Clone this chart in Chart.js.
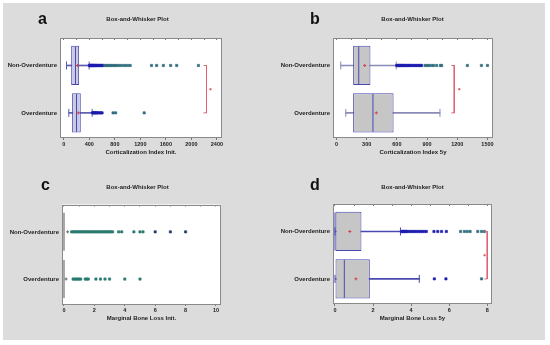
<!DOCTYPE html>
<html>
<head>
<meta charset="utf-8">
<script src="https://cdn.jsdelivr.net/npm/chart.js@4.4.1/dist/chart.umd.min.js"></script>
<style>
body { margin:0; background:#fff; width:550px; height:345px; position:relative; overflow:hidden; font-family:"Liberation Sans", Arial, sans-serif; }
#bg { position:absolute; left:3px; top:3px; width:542px; height:337px; background:#dcdcdc; }
canvas { position:absolute; }
.tag { position:absolute; font-weight:bold; font-size:16px; line-height:16px; color:#111; }
</style>
</head>
<body>
<div id="bg"></div>
<canvas id="ca" width="275" height="172" style="left:0;top:0"></canvas>
<canvas id="cb" width="275" height="172" style="left:275px;top:0"></canvas>
<canvas id="cc" width="275" height="173" style="left:0;top:172px"></canvas>
<canvas id="cd" width="275" height="173" style="left:275px;top:172px"></canvas>
<div class="tag" style="left:38px;top:11px">a</div>
<div class="tag" style="left:310px;top:11px">b</div>
<div class="tag" style="left:41px;top:177px">c</div>
<div class="tag" style="left:310px;top:177px">d</div>
<script>
var categories = ['Non-Overdenture', 'Overdenture'];

// a - Corticalization Index Init.
var aTicks = [0, 400, 800, 1200, 1600, 2000, 2400];
var aLow = [42, 78];
var aQ1 = [115, 130];
var aMedian = [183, 199];
var aQ3 = [240, 266];
var aHigh = [397, 444];
var aMean = [215, 228];
var aOutNon = [402, 410, 418, 426, 434, 442, 450, 460, 470, 480, 490, 500, 512, 525, 540, 555, 570, 585, 600, 615];
var aFarNon = [640, 665, 690, 715, 740, 765, 790, 815, 845, 880, 920, 960, 1000, 1040, 1375, 1455, 1560, 1675, 1770, 2110];
var aOutOver = [450, 462, 475, 490, 505, 520, 540, 560, 580, 600];
var aFarOver = [772, 812, 1260];
var aBracket = [2237, 2300];

// b - Corticalization Index 5y
var bTicks = [0, 300, 600, 900, 1200, 1500];
var bLow = [42, 92];
var bQ1 = [165, 165];
var bMedian = [221, 362];
var bQ3 = [337, 567];
var bHigh = [593, 1028];
var bMean = [280, 395];
var bOutNon = [598, 606, 614, 622, 630, 640, 650, 660, 670, 682, 694, 706, 718, 730, 745, 760, 775, 790, 805, 820, 835, 846];
var bFarNon = [880, 900, 920, 945, 965, 995, 1032, 1045, 1300, 1440, 1500];
var bOutOver = [];
var bFarOver = [];
var bBracket = [1170, 1220];

// c - Marginal Bone Loss Init.
var cTicks = [0, 2, 4, 6, 8, 10];
var cLow = [0, 0];
var cQ1 = [0, 0];
var cMedian = [0, 0];
var cQ3 = [0, 0];
var cHigh = [0, 0];
var cMean = [0.24, 0.14];
var cOutNon = [0.5, 0.6, 0.7, 0.8, 0.9, 1.0, 1.1, 1.2, 1.3, 1.4, 1.5, 1.6, 1.7, 1.8, 1.9, 2.0, 2.1, 2.2, 2.3, 2.4, 2.5, 2.6, 2.7, 2.8, 2.9, 3.0, 3.1, 3.2, 3.6, 3.8, 4.6, 5.0, 5.2];
var cFarNon = [6.0, 7.0, 8.0];
var cOutOver = [0.6, 0.7, 0.8, 0.9, 1.0, 1.1, 1.4, 1.5, 1.6, 2.1, 2.4, 2.7, 3.0, 4.0, 5.0];
var cFarOver = [];

// d - Marginal Bone Loss 5y
var dTicks = [0, 2, 4, 6, 8];
var dLow = [0, 0];
var dQ1 = [0, 0];
var dMedian = [0, 0.49];
var dQ3 = [1.39, 1.83];
var dHigh = [3.44, 4.43];
var dMean = [0.78, 1.1];
var dOutNon = [3.5, 3.55, 3.6, 3.65, 3.7, 3.75, 3.8, 3.9, 4.0, 4.1, 4.2, 4.3, 4.4, 4.5, 4.6, 4.7, 4.8, 5.2, 5.4, 5.6, 5.85];
var dFarNon = [6.6, 6.8, 6.95, 7.1, 7.5, 7.7, 7.85];
var dOutOver = [5.22, 5.83];
var dFarOver = [7.7];
var dBracket = [8.0, 7.86];

var FONT = '"Liberation Sans", Arial, sans-serif';
var RED = '#e06070';

function pts(values, row) {
  return values.map(function (v) { return {x: v, y: row}; });
}

// major ticks plus the half-way minor ones, for the inner marks on the top edge
function withMinor(ticks) {
  var out = [];
  for (var i = 0; i < ticks.length; i++) {
    out.push({value: ticks[i]});
    if (i < ticks.length - 1) out.push({value: (ticks[i] + ticks[i + 1]) / 2});
  }
  return out;
}

var frame = {
  id: 'frame',
  beforeDraw: function (chart) {
    var a = chart.chartArea, ctx = chart.ctx;
    ctx.save();
    ctx.fillStyle = '#ffffff';
    ctx.fillRect(a.left, a.top, a.right - a.left, a.bottom - a.top);
    ctx.restore();
  },
  afterDraw: function (chart) {
    var a = chart.chartArea, ctx = chart.ctx;
    ctx.save();
    ctx.strokeStyle = '#8a8a8a';
    ctx.lineWidth = 1;
    ctx.strokeRect(Math.round(a.left) + 0.5, Math.round(a.top) + 0.5, Math.round(a.right - a.left) - 1, Math.round(a.bottom - a.top) - 1);
    ctx.restore();
  }
};

function makeChart(id, p) {
  var datasets = [];
  datasets.push({
    type: 'bar', indexAxis: 'y', grouped: false, order: 9,
    data: p.low.map(function (v, i) { return {x: [v, p.high[i]], y: i}; }),
    barThickness: 1, backgroundColor: p.whisker, borderWidth: 0
  });
  datasets.push({
    type: 'bar', indexAxis: 'y', grouped: false, order: 8,
    data: p.q1.map(function (v, i) { return {x: [v, p.q3[i]], y: i}; }),
    categoryPercentage: 0.92, barPercentage: 0.9,
    backgroundColor: p.fill, borderColor: p.border, borderWidth: 1, borderSkipped: false
  });
  datasets.push({
    type: 'scatter', order: 7,
    data: p.median.map(function (v, i) { return {x: v, y: i}; }),
    pointStyle: 'line', pointRotation: 90, pointRadius: 19, pointHoverRadius: 19,
    pointBorderColor: p.medianColor, pointBorderWidth: p.medianWidth
  });
  datasets.push({
    type: 'scatter', order: 6,
    data: pts([p.low[0], p.high[0]], 0).concat(pts([p.low[1], p.high[1]], 1)),
    pointStyle: 'line', pointRotation: 90, pointRadius: 4, pointHoverRadius: 4,
    pointBorderColor: p.whisker, pointBorderWidth: 1
  });
  datasets.push({
    type: 'scatter', order: 5,
    data: p.mean.map(function (v, i) { return {x: v, y: i}; }),
    pointStyle: 'cross', pointRadius: 1.5, pointBorderColor: p.meanColor, pointBorderWidth: 1
  });
  datasets.push({
    type: 'scatter', order: 4,
    data: pts(p.outNon, 0).concat(pts(p.outOver, 1)),
    pointStyle: 'rect', pointRadius: 1.6, pointBackgroundColor: p.outColor, pointBorderColor: p.outColor, pointBorderWidth: 0.6
  });
  datasets.push({
    type: 'scatter', order: 3,
    data: pts(p.farNon, 0).concat(pts(p.farOver, 1)),
    pointStyle: 'rect', pointRadius: 1.6, pointBackgroundColor: p.farColor, pointBorderColor: p.farColor, pointBorderWidth: 0.6
  });
  if (p.bracket) {
    var bx = p.bracket[0], tick = (p.max - p.min) * 0.018;
    datasets.push({
      type: 'scatter', order: 2, showLine: true,
      data: [{x: bx - tick, y: 0}, {x: bx, y: 0}, {x: bx, y: 1}, {x: bx - tick, y: 1}],
      borderColor: RED, borderWidth: 1, pointRadius: 0
    });
    datasets.push({
      type: 'scatter', order: 1,
      data: [{x: p.bracket[1], y: 0.5}],
      pointStyle: 'circle', pointRadius: 0.8, pointBackgroundColor: RED, pointBorderColor: RED
    });
  }

  return new Chart(document.getElementById(id), {
    type: 'scatter',
    data: {datasets: datasets},
    plugins: [frame],
    options: {
      responsive: false,
      animation: false,
      events: [],
      layout: {padding: 0},
      plugins: {
        legend: {display: false},
        tooltip: {enabled: false},
        title: {
          display: true, text: 'Box-and-Whisker Plot', color: '#222',
          font: {family: FONT, size: 6, weight: 'bold'},
          padding: {top: p.titleTop, bottom: p.titleBottom}
        }
      },
      scales: {
        x: {
          type: 'linear', min: p.min, max: p.max, offset: false,
          afterBuildTicks: function (s) { s.ticks = p.ticks.map(function (v) { return {value: v}; }); },
          afterFit: function (s) { s.height = p.xHeight; },
          ticks: {color: '#222', font: {family: FONT, size: 5.5, weight: 'bold'}, padding: 1, maxRotation: 0, autoSkip: false,
            callback: function (v) { return String(v); }},
          grid: {drawOnChartArea: false, drawTicks: true, tickLength: 2, color: '#777'},
          border: {display: false},
          title: {display: true, text: p.xTitle, color: '#222', font: {family: FONT, size: 6, weight: 'bold'}, padding: {top: 0, bottom: p.xTitlePad}}
        },
        xt: {
          type: 'linear', position: 'top', min: p.min, max: p.max, offset: false,
          afterBuildTicks: function (s) { s.ticks = withMinor(p.ticks); },
          afterFit: function (s) { s.height = 0; },
          ticks: {display: false},
          grid: {drawOnChartArea: false, drawTicks: true, tickLength: -2, color: '#777'},
          border: {display: false}
        },
        y: {
          type: 'linear', reverse: true, min: -0.58, max: 1.53, offset: false,
          afterBuildTicks: function (s) { s.ticks = categories.map(function (c, i) { return {value: i}; }); },
          afterFit: function (s) { s.width = p.yWidth; },
          ticks: {color: '#222', font: {family: FONT, size: 6, weight: 'bold'}, padding: 3,
            callback: function (v) { return categories[v]; }},
          grid: {display: false, drawTicks: false},
          border: {display: false}
        },
        yr: {
          type: 'linear', position: 'right', display: true,
          afterFit: function (s) { s.width = p.padRight; },
          ticks: {display: false},
          grid: {display: false, drawTicks: false},
          border: {display: false}
        }
      }
    }
  });
}

makeChart('ca', {
  low: aLow, q1: aQ1, median: aMedian, q3: aQ3, high: aHigh, mean: aMean,
  outNon: aOutNon, farNon: aFarNon, outOver: aOutOver, farOver: aFarOver, bracket: aBracket,
  ticks: aTicks, min: -60, max: 2480, xTitle: 'Corticalization Index Init.',
  fill: '#c9c9e6', border: '#4a4aa8', whisker: '#5a5ab0', medianColor: '#4a4aa8', medianWidth: 1,
  meanColor: '#d04050', outColor: '#1c1cb0', farColor: '#2e6b7c',
  padRight: 53, yWidth: 60, xHeight: 34, xTitlePad: 16, titleTop: 15.4, titleBottom: 15.4
});

makeChart('cb', {
  low: bLow, q1: bQ1, median: bMedian, q3: bQ3, high: bHigh, mean: bMean,
  outNon: bOutNon, farNon: bFarNon, outOver: bOutOver, farOver: bFarOver, bracket: bBracket,
  ticks: bTicks, min: -35, max: 1555, xTitle: 'Corticalization Index 5y',
  fill: '#c6c6c6', border: '#4848b0', whisker: '#8a8ab8', medianColor: '#4848b0', medianWidth: 1,
  meanColor: '#d04050', outColor: '#1c1cb0', farColor: '#2e6b7c',
  padRight: 57, yWidth: 58, xHeight: 34, xTitlePad: 16, titleTop: 15.4, titleBottom: 15.4
});

makeChart('cc', {
  low: cLow, q1: cQ1, median: cMedian, q3: cQ3, high: cHigh, mean: cMean,
  outNon: cOutNon, farNon: cFarNon, outOver: cOutOver, farOver: cFarOver, bracket: null,
  ticks: cTicks, min: -0.13, max: 10.33, xTitle: 'Marginal Bone Loss Init.',
  fill: '#c6c6c6', border: '#a8a8a8', whisker: '#a8a8a8', medianColor: '#a8a8a8', medianWidth: 2,
  meanColor: '#666666', outColor: '#2a7a70', farColor: '#1e3c70',
  padRight: 54, yWidth: 62, xHeight: 41, xTitlePad: 23, titleTop: 11.4, titleBottom: 13.9
});

makeChart('cd', {
  low: dLow, q1: dQ1, median: dMedian, q3: dQ3, high: dHigh, mean: dMean,
  outNon: dOutNon, farNon: dFarNon, outOver: dOutOver, farOver: dFarOver, bracket: dBracket,
  ticks: dTicks, min: -0.105, max: 8.25, xTitle: 'Marginal Bone Loss 5y',
  fill: '#c6c6c6', border: '#4848b0', whisker: '#4848b0', medianColor: '#4848b0', medianWidth: 1,
  meanColor: '#d04050', outColor: '#1c1cb0', farColor: '#2e6b7c',
  padRight: 58, yWidth: 58, xHeight: 41, xTitlePad: 23, titleTop: 11.4, titleBottom: 13.4
});
</script>
</body>
</html>
